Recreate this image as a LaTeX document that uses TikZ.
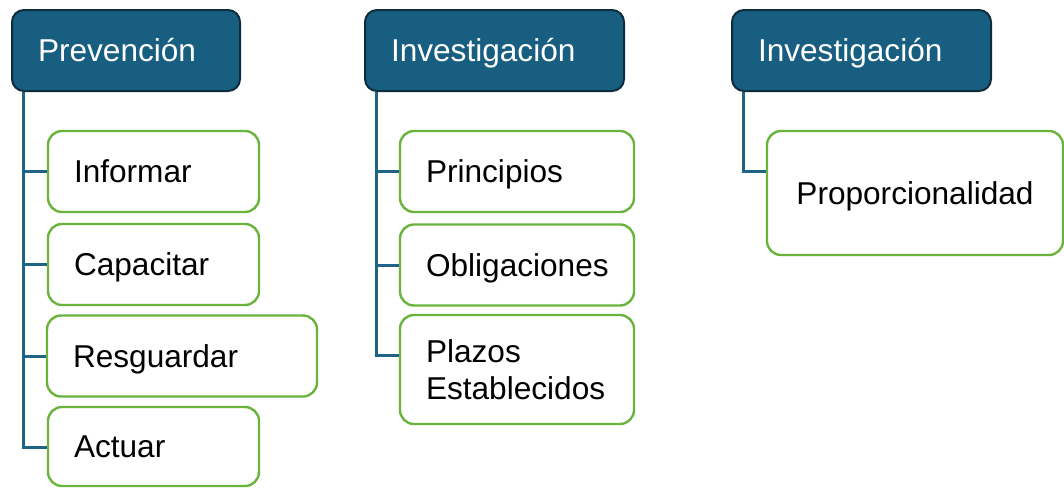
\documentclass[tikz,border=0pt]{standalone}
\usepackage{fontspec}
\setmainfont{Liberation Sans}
\hyphenpenalty=10000
\definecolor{headfill}{RGB}{24,94,128}
\definecolor{headline}{RGB}{14,45,60}
\definecolor{leafline}{RGB}{106,180,62}
\definecolor{linkcol}{RGB}{30,99,136}
\tikzset{
	headbox/.style={draw=headline, line width=1pt, fill=headfill, text=white, rounded corners=6pt, align=left, inner xsep=13pt, inner ysep=0pt, text height=11.3pt, text depth=0pt, minimum height=40.5pt},
	leafbox/.style={draw=leafline, line width=1.2pt, fill=white, rounded corners=7pt, align=left, inner xsep=13pt, inner ysep=0pt, text height=11.3pt, text depth=0pt, minimum height=40.5pt},
	link/.style={draw=linkcol, line width=1.5pt}
}
\begin{document}
\begin{tikzpicture}[x=0.5pt, y=-0.5pt, font=\fontsize{15.8}{18.5}\selectfont]
			\useasboundingbox (0,0) rectangle (1064,487);
			% heads
			\node[headbox, text width=88pt] (prev) at (126,50.5) {Prevención};
			\node[headbox, text width=103.5pt] (invA) at (494.5,50.5) {Investigación};
			\node[headbox, text width=103.5pt] (invB) at (861.5,50.5) {Investigación};
			% first column
			\node[leafbox, text width=79.5pt] (inf) at (153.5,171.5) {Informar};
			\node[leafbox, text width=79.5pt] (cap) at (153.5,264.5) {Capacitar};
			\node[leafbox, text width=109pt] (res) at (182,356) {Resguardar};
			\node[leafbox, text width=79.5pt, minimum height=39.5pt] (act) at (153.5,446.5) {Actuar};
			% second column
			\node[leafbox, text width=91pt] (pri) at (517,171.5) {Principios};
			\node[leafbox, text width=91pt] (obl) at (517,265) {Obligaciones};
			\node[leafbox, text width=91pt, text depth=18.5pt, minimum height=54.5pt] (pla) at (517,369.5) {Plazos\\Establecidos};
			% third column
			\node[leafbox, text width=122pt, align=center, minimum height=62pt] (pro) at (915,193) {Proporcionalidad};
			% links
			\foreach \n in {inf,cap,res,act}
				\draw[link] ([xshift=6pt]prev.south west) |- ([yshift=-21pt]\n.north west);
			\foreach \n in {pri,obl,pla}
				\draw[link] ([xshift=6pt]invA.south west) |- ([yshift=-21pt]\n.north west);
			\draw[link] ([xshift=6pt]invB.south west) |- ([yshift=-21pt]pro.north west);
\end{tikzpicture}
\end{document}
